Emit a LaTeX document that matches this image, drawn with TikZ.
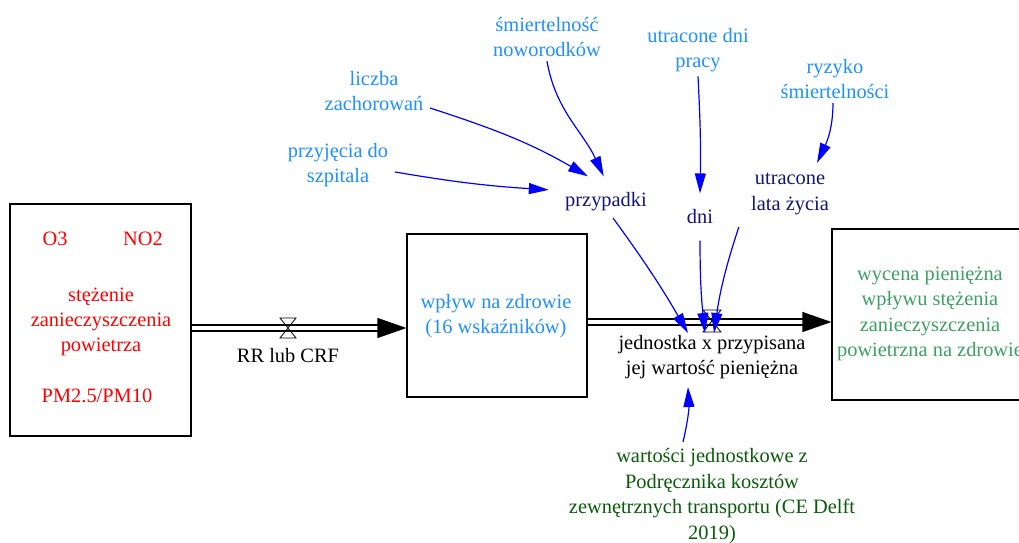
\documentclass[tikz,border=0pt]{standalone}
\usepackage{fontspec}
\setmainfont{Liberation Serif}
\usetikzlibrary{arrows.meta,calc}
\definecolor{auxblue}{RGB}{30,144,255}
\definecolor{varnavy}{RGB}{20,20,120}
\definecolor{valgreen}{RGB}{60,160,100}
\definecolor{srcgreen}{RGB}{10,90,10}

\begin{document}
\begin{tikzpicture}[
    x=0.5pt, y=-0.5pt,
    every node/.style={
        font=\fontsize{10.2}{12.7}\selectfont,
        align=center,
        inner sep=2pt,
    },
    stock/.style={draw, line width=0.6pt, inner sep=0pt},
    pipe/.style={double, double distance=2.4pt, line width=0.6pt},
    flowtip/.style={-{Triangle[length=14.5pt,width=10pt]}, line width=0.6pt},
    inf/.style={-{Triangle[length=10pt,width=5.5pt]}, blue, line width=0.6pt},
]
    \useasboundingbox (0,0) rectangle (1019,542);
    % stocks
    \node[stock, minimum width=90.5pt, minimum height=116pt] (air) at (100.5,320) {};
    \node[stock, minimum width=90pt, minimum height=81.5pt] (impact) at (497,315.5) {};
    \node[stock, minimum width=102pt, minimum height=85.5pt] (value) at (934,314.5) {};
    \node[red] (o3) at (55,239) {O3};
    \node[red] (no2) at (143,239) {NO2};
    \node[red] (conc) at (101,322) {stężenie\\zanieczyszczenia\\powietrza};
    \node[red] (pm) at (97,396) {PM2.5/PM10};
    \node[auxblue] (health) at (496,316) {wpływ na zdrowie\\(16 wskaźników)};
    \node[valgreen] (money) at (930,314) {wycena pieniężna\\wpływu stężenia\\zanieczyszczenia\\powietrzna na zdrowie};

    % flows
    \coordinate (p1) at (0,328);
    \coordinate (p2) at (0,322);
    \coordinate (v1) at (288,328);
    \coordinate (v2) at (712,321);
    \draw[pipe] (air.east |- p1) -- ($(impact.west |- p1)+(-26,0)$);
    \draw[flowtip] ($(impact.west |- p1)+(-28,0)$) -- (impact.west |- p1);
    \draw (v1) ++(-8,-10) -- ++(16,0) -- ++(-16,20) -- ++(16,0) -- cycle;
    \node (rr) at (288,356) {RR lub CRF};
    \draw[pipe] (impact.east |- p2) -- ($(value.west |- p2)+(-26,0)$);
    \draw[flowtip] ($(value.west |- p2)+(-28,0)$) -- (value.west |- p2);
    \draw (v2) ++(-9,-11) -- ++(18,0) -- ++(-18,22) -- ++(18,0) -- cycle;
    \node (unit) at (712,357) {jednostka x przypisana\\jej wartość pieniężna};

    % auxiliaries
    \node[auxblue] (pz) at (338,165) {przyjęcia do\\szpitala};
    \node[auxblue] (lz) at (374,91) {liczba\\zachorowań};
    \node[auxblue] (sn) at (547,37) {śmiertelność\\noworodków};
    \node[auxblue] (udp) at (698,50) {utracone dni\\pracy};
    \node[auxblue] (rs) at (835,79) {ryzyko\\śmiertelności};
    \node[varnavy, inner sep=8pt] (cases) at (606,202) {przypadki};
    \node[varnavy, inner sep=8pt] (dni) at (700,217) {dni};
    \node[varnavy, inner sep=6pt] (lata) at (790,194) {utracone\\lata życia};
    \node[srcgreen] (src) at (712,496) {wartości jednostkowe z\\Podręcznika kosztów\\zewnętrznych transportu (CE Delft\\2019)};

    \coordinate (in1) at (688,333);
    \coordinate (in2) at (705,333);
    \coordinate (in3) at (714,333);
    \coordinate (in4) at (688,387);
    \coordinate (in5) at (817,163);
    \coordinate (out4) at (683,442);
    \coordinate (out1) at (395,172);
    \coordinate (out2) at (430,108);
    \coordinate (out5) at (833,103);
    \coordinate (out6) at (613,218);

    % links
    \draw[inf] (out1) to[bend right=3] (cases.168);
    \draw[inf] (out2) to[out=-18, in=150] (cases.125);
    \draw[inf] (sn.south) to[out=-80, in=115] (cases.95);
    \draw[inf] (udp.south) to[bend left=2] (dni.north);
    \draw[inf] (out5) to[out=-90, in=65] (in5);
    \draw[inf] (out6) to[bend left=3] (in1);
    \draw[inf] (dni.south) to[bend right=3] (in2);
    \draw[inf] (lata.south west) to[bend right=5] (in3);
    \draw[inf] (out4) to[bend right=8] (in4);
\end{tikzpicture}
\end{document}
